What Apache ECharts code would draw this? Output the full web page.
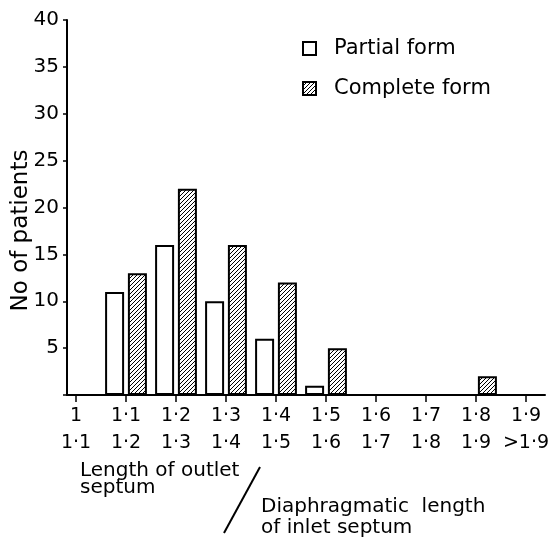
<!DOCTYPE html>
<html>
<head>
<meta charset="utf-8">
<script src="https://cdn.jsdelivr.net/npm/echarts@6/dist/echarts.min.js"></script>
<style>
  html, body { margin: 0; padding: 0; background: #fff; }
  #chart { width: 548px; height: 540px; }
</style>
</head>
<body>
<div id="chart"></div>
<script>
// ratio classes (outlet septum / inlet septum)
const categories = ['1\n1·1', '1·1\n1·2', '1·2\n1·3', '1·3\n1·4', '1·4\n1·5',
                    '1·5\n1·6', '1·6\n1·7', '1·7\n1·8', '1·8\n1·9', '1·9\n>1·9'];
const partialForm  = [0, 11, 16, 10, 6, 1, 0, 0, 0, 0];
const completeForm = [0, 13, 22, 16, 12, 5, 0, 0, 2, 0];
const yTicks = [5, 10, 15, 20, 25, 30, 35, 40];

const FONT = 'DejaVu Sans';

// diagonal hatching for the complete form
function hatch() {
  const c = document.createElement('canvas');
  c.width = 4; c.height = 4;
  const g = c.getContext('2d');
  g.fillStyle = '#fff';
  g.fillRect(0, 0, 4, 4);
  g.strokeStyle = '#000';
  g.lineWidth = 1;
  g.beginPath();
  g.moveTo(0, 4); g.lineTo(4, 0);
  g.moveTo(-1, 1); g.lineTo(1, -1);
  g.moveTo(3, 5); g.lineTo(5, 3);
  g.stroke();
  return c;
}

// empty classes: no outline drawn for zero-height bars
const noZeroBorder = arr => arr.map(v => (v === 0 ? { value: 0, itemStyle: { borderWidth: 0 } } : v));

const chart = echarts.init(document.getElementById('chart'));
chart.setOption({
  backgroundColor: '#fff',
  animation: false,
  textStyle: { fontFamily: FONT, color: '#000' },
  // grid 0 holds the bars, grid 1 draws the visible axes frame
  grid: [
    { left: 51, width: 500, top: 20, bottom: 145, outerBoundsMode: 'none', containLabel: false },
    { left: 67, right: 3, top: 20, bottom: 145, outerBoundsMode: 'none', containLabel: false }
  ],
  legend: {
    orient: 'vertical',
    left: 297, top: 31,
    icon: 'rect',
    itemWidth: 13, itemHeight: 13, itemGap: 15,
    textStyle: { fontFamily: FONT, fontSize: 21, color: '#000', lineHeight: 25, padding: [0, 0, 0, 13] },
    data: ['Partial form', 'Complete form']
  },
  xAxis: [
    {
      type: 'category',
      gridIndex: 0,
      data: categories,
      axisLine: { show: false },
      axisTick: { show: true, alignWithLabel: true, length: 7, lineStyle: { color: '#000', width: 1.5 } },
      axisLabel: { fontFamily: FONT, fontSize: 19, color: '#000', lineHeight: 27, margin: 8, interval: 0 }
    },
    {
      type: 'value',
      gridIndex: 1,
      min: 0, max: 1,
      axisLine: { show: true, onZero: false, lineStyle: { color: '#000', width: 2 } },
      axisTick: { show: false },
      axisLabel: { show: false },
      splitLine: { show: false }
    }
  ],
  yAxis: [
    {
      type: 'value',
      gridIndex: 0,
      min: 0, max: 40, interval: 5,
      show: false
    },
    {
      type: 'value',
      gridIndex: 1,
      min: 0, max: 40, interval: 5,
      name: 'No of patients',
      nameLocation: 'middle',
      nameGap: 34,
      nameRotate: 90,
      nameMoveOverlap: false,
      nameTextStyle: { fontFamily: FONT, fontSize: 23, color: '#000', padding: [0, 46, 0, 0] },
      splitLine: { show: false },
      axisLine: { show: true, onZero: false, lineStyle: { color: '#000', width: 2 } },
      axisTick: { show: true, length: 4, lineStyle: { color: '#000', width: 1.5 } },
      axisLabel: {
        fontFamily: FONT, fontSize: 20, color: '#000', margin: 8,
        formatter: v => (yTicks.indexOf(v) >= 0 ? String(v) : '')
      }
    }
  ],
  series: [
    {
      name: 'Partial form',
      type: 'bar',
      xAxisIndex: 0, yAxisIndex: 0,
      data: noZeroBorder(partialForm),
      barWidth: 19,
      barGap: '20%',
      itemStyle: { color: '#fff', borderColor: '#000', borderWidth: 2 }
    },
    {
      name: 'Complete form',
      type: 'bar',
      xAxisIndex: 0, yAxisIndex: 0,
      data: noZeroBorder(completeForm),
      barWidth: 19,
      itemStyle: { color: { image: hatch(), repeat: 'repeat' }, borderColor: '#000', borderWidth: 2 }
    }
  ],
  graphic: [
    {
      type: 'text', left: 80, top: 461,
      style: { text: 'Length of outlet\nseptum', font: '20px "DejaVu Sans"', fill: '#000', lineHeight: 17 }
    },
    {
      type: 'line',
      shape: { x1: 224, y1: 533, x2: 260, y2: 467 },
      style: { stroke: '#000', lineWidth: 2 }
    },
    {
      type: 'text', left: 261, top: 496,
      style: { text: 'Diaphragmatic  length\nof inlet septum', font: '20px "DejaVu Sans"', fill: '#000', lineHeight: 21 }
    }
  ]
});
</script>
</body>
</html>
